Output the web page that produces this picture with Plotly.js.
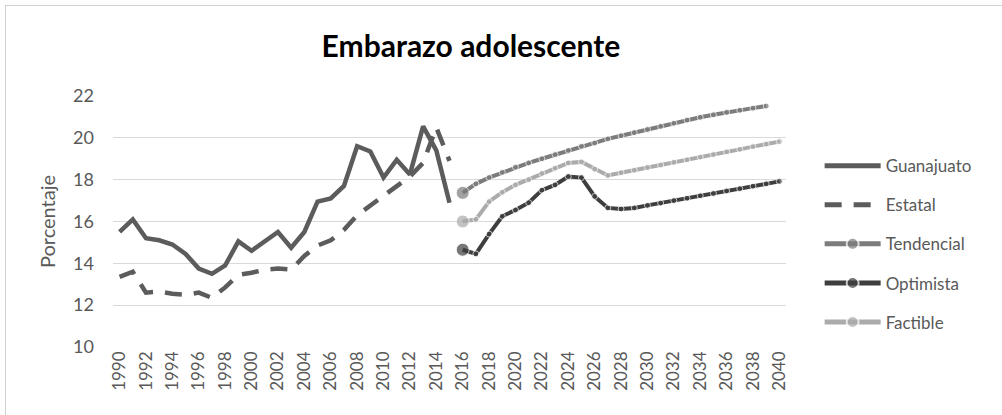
<!DOCTYPE html>
<html>
<head>
<meta charset="utf-8">
<script src="https://cdn.plot.ly/plotly-3.0.1.min.js"></script>
<style>
  html, body { margin: 0; padding: 0; background: #ffffff; overflow: hidden; }
  #frame { position: absolute; left: 5px; top: 5px; width: 1010px; height: 420px; border: 1px solid #d0d0d0; box-sizing: border-box; }
  #chart { position: absolute; left: 0; top: 0; width: 1002px; height: 415px; }
</style>
</head>
<body>
<div id="frame"></div>
<div id="chart"></div>
<script>
// ---- Data ----
const histYears = [1990,1991,1992,1993,1994,1995,1996,1997,1998,1999,2000,2001,2002,2003,2004,2005,2006,2007,2008,2009,2010,2011,2012,2013,2014,2015];
const guanajuato = [15.5,16.1,15.2,15.1,14.9,14.45,13.75,13.5,13.9,15.05,14.6,15.05,15.5,14.75,15.5,16.95,17.1,17.7,19.6,19.35,18.1,18.95,18.25,20.55,19.4,16.9];
const estatal = [13.35,13.6,12.6,12.65,12.55,12.5,12.6,12.35,12.85,13.45,13.55,13.7,13.75,13.7,14.35,14.85,15.1,15.6,16.3,16.75,17.2,17.65,18.15,18.8,20.5,18.9];

const projYears = [2016,2017,2018,2019,2020,2021,2022,2023,2024,2025,2026,2027,2028,2029,2030,2031,2032,2033,2034,2035,2036,2037,2038,2039,2040];
const tendencial = [17.37,17.8,18.1,18.35,18.6,18.8,19.0,19.2,19.4,19.6,19.75,19.95,20.1,20.25,20.4,20.55,20.7,20.85,20.98,21.1,21.22,21.32,21.42,21.52,null];
const optimista = [14.65,14.45,15.4,16.25,16.55,16.9,17.5,17.75,18.15,18.1,17.2,16.65,16.6,16.65,16.77,16.88,17.0,17.11,17.23,17.34,17.46,17.57,17.69,17.8,17.92];
const factible = [16.0,16.1,16.95,17.4,17.75,18.0,18.3,18.55,18.8,18.85,18.5,18.2,18.33,18.45,18.58,18.7,18.83,18.95,19.08,19.2,19.33,19.45,19.58,19.7,19.82];

const xTickVals = [1990,1992,1994,1996,1998,2000,2002,2004,2006,2008,2010,2012,2014,2016,2018,2020,2022,2024,2026,2028,2030,2032,2034,2036,2038,2040];
const xTickText = xTickVals.map(String);
const yTickVals = [10,12,14,16,18,20,22];

const chartTitle = "Embarazo adolescente";
const yTitle = "Porcentaje";
const seriesNames = ["Guanajuato","Estatal","Tendencial","Optimista","Factible"];

// ---- Styles ----
const FONT = "Lato, 'Open Sans', sans-serif";
const firstBig = (arr, big, small) => arr.map((v, i) => i === 0 ? big : small);

const traces = [
  { x: histYears, y: guanajuato, name: seriesNames[0], type: "scatter", mode: "lines",
    line: { color: "#5c5c5c", width: 4.5 }, legendgroup: "a" },
  { x: histYears, y: estatal, name: seriesNames[1], type: "scatter", mode: "lines",
    line: { color: "#5c5c5c", width: 4.5, dash: "17px,12px" }, legendgroup: "b" },
  { x: projYears, y: tendencial, name: seriesNames[2], type: "scatter", mode: "lines+markers",
    line: { color: "#7c7c7c", width: 4 }, marker: { color: "#7c7c7c", size: firstBig(tendencial, 13, 6) }, legendgroup: "c" },
  { x: projYears, y: optimista, name: seriesNames[3], type: "scatter", mode: "lines+markers",
    line: { color: "#3e3e3e", width: 4 }, marker: { color: "#3e3e3e", size: firstBig(optimista, 13, 6) }, legendgroup: "d" },
  { x: projYears, y: factible, name: seriesNames[4], type: "scatter", mode: "lines+markers",
    line: { color: "#ababab", width: 4 }, marker: { color: "#ababab", size: firstBig(factible, 13, 6) }, legendgroup: "e" }
];

const layout = {
  width: 1002, height: 415,
  paper_bgcolor: "rgba(0,0,0,0)", plot_bgcolor: "rgba(0,0,0,0)",
  margin: { l: 113, r: 216, t: 96, b: 68 },
  font: { family: FONT, color: "#595959", size: 17 },
  title: { text: "<b>" + chartTitle + "</b>", x: 0.47, xanchor: "center", y: 0.889, yanchor: "middle",
           font: { family: FONT, size: 30, color: "#000000" } },
  xaxis: { range: [1989.5, 2040.5], tickmode: "array", tickvals: xTickVals, ticktext: xTickText,
           tickangle: -90, showgrid: false, zeroline: false, showline: false, ticks: "",
           tickfont: { family: FONT, size: 17, color: "#595959" }, fixedrange: true },
  yaxis: { range: [10, 22], tickmode: "array", tickvals: yTickVals, showgrid: true, gridcolor: "#d9d9d9", gridwidth: 1,
           zeroline: false, showline: false, ticks: "", ticklabelstandoff: 18,
           tickfont: { family: FONT, size: 18, color: "#595959" },
           title: { text: yTitle, font: { family: FONT, size: 20, color: "#595959" }, standoff: 12 }, fixedrange: true },
  showlegend: true,
  legend: { x: 1.05, xanchor: "left", y: 0.41, yanchor: "middle", tracegroupgap: 14, itemwidth: 56,
            font: { family: FONT, size: 17, color: "#595959" }, bgcolor: "rgba(0,0,0,0)", itemsizing: "constant" }
};

Plotly.newPlot("chart", traces, layout, { displayModeBar: false, staticPlot: true });
</script>
</body>
</html>
